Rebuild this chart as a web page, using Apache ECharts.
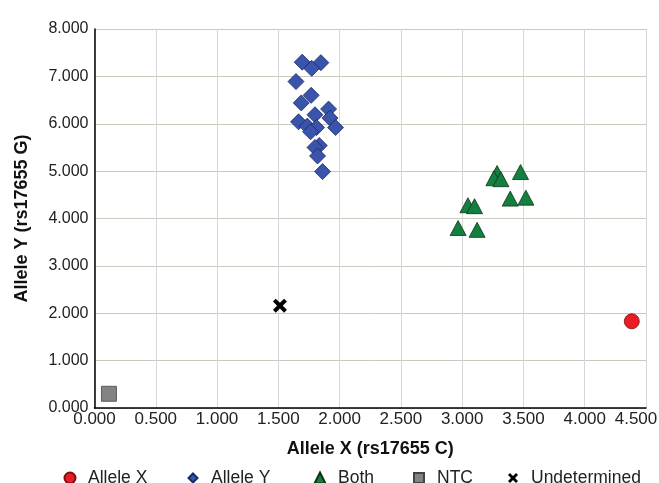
<!DOCTYPE html>
<html>
<head>
<meta charset="utf-8">
<script src="https://cdn.jsdelivr.net/npm/echarts@6/dist/echarts.min.js"></script>
<style>html,body{margin:0;padding:0;background:#fff;}#c{width:659px;height:483px;}</style>
</head>
<body>
<div id="c"></div>
<script>
var alleleX = [[4.384, 1.83]];
var alleleY = [
  [1.695, 7.30], [1.847, 7.29], [1.772, 7.17], [1.644, 6.89], [1.768, 6.60],
  [1.687, 6.44], [1.910, 6.31], [1.799, 6.19], [1.921, 6.12], [1.665, 6.04],
  [1.967, 5.92], [1.736, 5.95], [1.812, 5.92], [1.763, 5.83], [1.834, 5.54],
  [1.799, 5.50], [1.820, 5.32], [1.861, 4.99]
];
var both = [
  [3.285, 4.96], [3.259, 4.85], [3.316, 4.83], [3.476, 4.98], [3.392, 4.42],
  [3.520, 4.44], [3.047, 4.28], [3.101, 4.26], [2.967, 3.80], [3.122, 3.76]
];
var ntc = [[0.118, 0.30]];
var undetermined = [[1.513, 2.16]];
var xTicks = {min: 0, max: 4.5, interval: 0.5};
var yTicks = {min: 0, max: 8, interval: 1};
var seriesNames = ['Allele X', 'Allele Y', 'Both', 'NTC', 'Undetermined'];
var legendCenter = [69, 192, 319, 418, 513];
var legendIconSize = [11, 9, 11, 10, 10];

var xPath = 'path://M2,0 L5,3 L8,0 L10,2 L7,5 L10,8 L8,10 L5,7 L2,10 L0,8 L3,5 L0,2 Z';
var font = '"Liberation Sans", Arial, sans-serif';
var chart = echarts.init(document.getElementById('c'), null, {renderer: 'canvas'});

var legends = seriesNames.map(function (n, i) {
  var w = legendIconSize[i];
  return {
    top: 464, left: legendCenter[i] - 5 - w / 2, itemWidth: w, itemHeight: w,
    textStyle: {fontFamily: font, fontSize: 17.5, color: '#222', padding: [0, 0, 0, 13 - w / 2]},
    data: [n]
  };
});

chart.setOption({
  animation: false,
  backgroundColor: '#fff',
  textStyle: {fontFamily: font},
  grid: {left: 94.5, right: 13, top: 29, bottom: 75, containLabel: false, outerBoundsMode: 'none'},
  xAxis: {
    type: 'value', min: xTicks.min, max: xTicks.max, interval: xTicks.interval,
    name: 'Allele X (rs17655 C)', nameLocation: 'middle', nameGap: 32,
    nameTextStyle: {fontFamily: font, fontSize: 18, fontWeight: 'bold', color: '#111'},
    axisLine: {show: true, lineStyle: {color: '#000', width: 1.5}},
    axisTick: {show: false},
    axisLabel: {fontFamily: font, fontSize: 17, color: '#222', margin: 3,
      formatter: function (v) { return v === xTicks.max ? '{m|' + v.toFixed(3) + '}' : v.toFixed(3); },
      rich: {m: {fontFamily: font, fontSize: 17, color: '#222', padding: [0, 20, 0, 0]}}},
    splitLine: {show: true, lineStyle: {color: '#d6d6d6', width: 1}}
  },
  yAxis: {
    type: 'value', min: yTicks.min, max: yTicks.max, interval: yTicks.interval,
    name: 'Allele Y (rs17655 G)', nameLocation: 'middle', nameGap: 63,
    nameTextStyle: {fontFamily: font, fontSize: 18, fontWeight: 'bold', color: '#111'},
    axisLine: {show: true, lineStyle: {color: '#000', width: 1.5}},
    axisTick: {show: false},
    axisLabel: {fontFamily: font, fontSize: 16, color: '#222', margin: 6,
      formatter: function (v) { return v.toFixed(3); }},
    splitLine: {show: true, lineStyle: {color: '#c9c9bd', width: 1}}
  },
  legend: legends,
  series: [
    {name: seriesNames[0], type: 'scatter', data: alleleX, symbol: 'circle', symbolSize: 15,
      itemStyle: {color: '#ea1c24', borderColor: '#7a1010', borderWidth: 0.8, opacity: 1}},
    {name: seriesNames[1], type: 'scatter', data: alleleY, symbol: 'diamond', symbolSize: 16,
      itemStyle: {color: '#3a54ab', borderColor: '#1a2a66', borderWidth: 0.8, opacity: 1}},
    {name: seriesNames[2], type: 'scatter', data: both, symbol: 'triangle', symbolSize: [16, 15],
      itemStyle: {color: '#148040', borderColor: '#0a3318', borderWidth: 0.8, opacity: 1}},
    {name: seriesNames[3], type: 'scatter', data: ntc, symbol: 'rect', symbolSize: 15,
      itemStyle: {color: '#838383', borderColor: '#444', borderWidth: 0.8, opacity: 1}},
    {name: seriesNames[4], type: 'scatter', data: undetermined, symbol: xPath, symbolSize: 14,
      itemStyle: {color: '#000', opacity: 1}}
  ]
});
</script>
</body>
</html>
